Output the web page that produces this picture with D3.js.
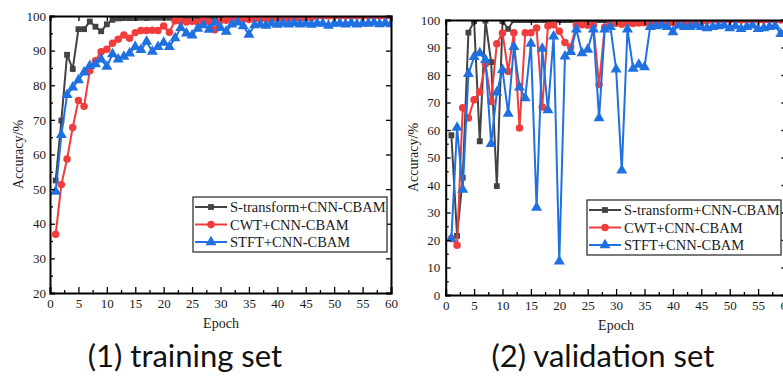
<!DOCTYPE html>
<html>
<head>
<meta charset="utf-8">
<script src="https://cdn.jsdelivr.net/npm/d3@7"></script>
<style>
  body { margin: 0; background: #fff; }
  text { font-family: "Liberation Serif", "Times New Roman", serif; }
</style>
</head>
<body>
<div id="chart"></div>
<script>
// epochs on the x axis
var epochs = d3.range(1, 61);

// (1) training set accuracy
var trainS = [52.5, 69.8, 88.8, 84.7, 96.2, 96.2, 98.4, 96.9, 95.6, 97.6,
  98.9, 99.3, 99.4, 99.4, 99.4, 99.5, 99.4, 99.5, 99.5, 99.5,
  99.5, 99.6, 99.6, 99.6, 99.6, 99.6, 99.7, 99.7, 99.7, 99.7,
  99.7, 99.7, 99.8, 99.7, 99.8, 99.8, 99.8, 99.7, 99.8, 99.8,
  99.9, 99.9, 99.9, 99.9, 99.9, 99.9, 100, 100, 100, 100,
  100, 100, 100, 100, 100, 100, 100, 100, 100, 100];
var trainC = [37.0, 51.3, 58.7, 67.8, 75.6, 73.9, 84.2, 87.1, 89.7, 90.4,
  92.1, 93.3, 94.5, 93.6, 95.2, 95.8, 95.8, 95.9, 95.8, 97.1,
  95.3, 98.6, 98.5, 98.3, 98.5, 98.2, 98.6, 98.4, 96.0, 98.7,
  98.8, 99.0, 98.9, 99.1, 99.0, 99.1, 99.2, 99.1, 99.3, 99.2,
  99.3, 99.3, 99.4, 99.3, 99.4, 99.5, 100, 100, 100, 100,
  100, 100, 100, 100, 100, 100, 100, 100, 100, 100];
var trainT = [49.3, 65.7, 77.2, 79.4, 81.5, 83.7, 85.6, 86.1, 87.5, 85.4,
  89.0, 87.5, 88.3, 89.2, 91.1, 90.2, 92.6, 89.7, 91.1, 92.3,
  91.1, 93.6, 96.6, 95.0, 94.4, 96.4, 97.4, 96.1, 98.1, 96.6,
  95.5, 97.6, 98.2, 97.1, 94.6, 97.4, 97.6, 97.2, 97.9, 97.5,
  97.9, 97.6, 98.0, 97.6, 97.9, 97.5, 97.9, 97.8, 97.2, 97.8,
  97.9, 97.6, 98.0, 97.6, 97.9, 97.8, 98.1, 97.7, 98.0, 97.7];

// (2) validation set accuracy
var valS = [58.1, 21.5, 42.7, 95.4, 99.6, 55.9, 99.8, 84.7, 39.6, 99.6,
  96.8, 100, 100, 100, 100, 100, 100, 100, 100, 100,
  100, 100, 100, 100, 100, 100, 100, 100, 100, 100,
  100, 100, 100, 100, 100, 100, 100, 100, 100, 100,
  100, 100, 100, 100, 100, 100, 100, 100, 100, 100,
  100, 100, 100, 100, 100, 100, 100, 100, 100, 100];
var valC = [20.5, 18.1, 68.1, 64.4, 71.0, 73.8, 84.1, 70.4, 91.4, 95.3,
  81.3, 95.4, 60.7, 95.4, 95.4, 97.1, 68.4, 97.8, 98.3, 95.9,
  91.8, 90.2, 98.1, 98.3, 98.1, 98.1, 76.5, 97.5, 98.6, 98.8,
  98.5, 98.9, 98.7, 98.9, 99.0, 98.8, 99.0, 98.9, 99.1, 99.0,
  99.2, 99.1, 99.2, 99.3, 99.4, 99.6, 100, 100, 100, 100,
  100, 100, 100, 100, 100, 100, 100, 100, 100, 100];
var valT = [20.5, 60.9, 38.3, 80.4, 86.6, 88.0, 85.5, 55.0, 73.7, 81.9,
  66.0, 90.2, 75.5, 71.6, 91.4, 31.8, 89.6, 67.2, 94.1, 12.2,
  86.8, 88.4, 96.6, 88.0, 89.2, 96.6, 64.3, 96.6, 97.5, 82.1,
  45.3, 96.6, 82.3, 83.8, 82.9, 97.5, 97.8, 98.1, 97.5, 95.6,
  98.1, 97.5, 97.5, 98.1, 97.5, 97.1, 97.5, 97.8, 98.1, 97.1,
  97.8, 96.8, 97.5, 98.1, 96.8, 97.1, 97.5, 97.8, 95.0, 96.5];

var seriesNames = ["S-transform+CNN-CBAM", "CWT+CNN-CBAM", "STFT+CNN-CBAM"];
var seriesColors = ["#434343", "#f03c3c", "#1f70e0"];
var seriesShapes = [d3.symbolSquare, d3.symbolCircle, d3.symbolTriangle];
var shapeSizes = [34, 44, 52];

var xTicks = [0, 5, 10, 15, 20, 25, 30, 35, 40, 45, 50, 55, 60];
var trainYTicks = [20, 30, 40, 50, 60, 70, 80, 90, 100];
var valYTicks = [0, 10, 20, 30, 40, 50, 60, 70, 80, 90, 100];
var captions = ["(1) training set", "(2) validation set"];

var svg = d3.select("#chart").append("svg")
  .attr("width", 783)
  .attr("height", 380);

// one panel
function drawPanel(p) {
  var x = d3.scaleLinear().domain([0, 60]).range([p.left, p.right]);
  var y = d3.scaleLinear().domain(p.yDomain).range([p.bottom, p.top]);
  var g = svg.append("g");

  var clipId = "clip" + p.id;
  svg.append("clipPath").attr("id", clipId)
    .append("rect")
    .attr("x", p.left).attr("y", p.top + 1)
    .attr("width", p.right - p.left).attr("height", p.bottom - p.top);

  // series, first one at the bottom
  var data = p.series;
  data.forEach(function(vals, i) {
    var pts = epochs.map(function(e, k) { return [e, vals[k]]; });
    var sg = g.append("g").attr("clip-path", "url(#" + clipId + ")");
    sg.append("path")
      .datum(pts)
      .attr("fill", "none")
      .attr("stroke", seriesColors[i])
      .attr("stroke-width", 2)
      .attr("d", d3.line().x(d => x(d[0])).y(d => y(d[1])));
    sg.selectAll("path.m")
      .data(pts)
      .enter().append("path")
      .attr("class", "m")
      .attr("transform", d => "translate(" + x(d[0]) + "," + y(d[1]) + ")")
      .attr("d", d3.symbol().type(seriesShapes[i]).size(shapeSizes[i]))
      .attr("fill", seriesColors[i]);
  });

  // axes
  var minorX = d3.range(0, 61, 2.5).filter(v => v % 5 !== 0);
  var minorY = d3.range(p.yDomain[0], p.yDomain[1] + 1, 5).filter(v => v % 10 !== 0);

  g.append("g").attr("transform", "translate(0," + p.bottom + ")")
    .call(d3.axisBottom(x).tickValues(xTicks).tickSize(-6).tickPadding(p.xPad));
  g.append("g").attr("transform", "translate(0," + p.bottom + ")")
    .call(d3.axisBottom(x).tickValues(minorX).tickSize(-3).tickFormat(""))
    .select(".domain").remove();
  g.append("g").attr("transform", "translate(" + p.left + ",0)")
    .call(d3.axisLeft(y).tickValues(p.yTicks).tickSize(-5).tickPadding(p.yPad));
  g.append("g").attr("transform", "translate(" + p.left + ",0)")
    .call(d3.axisLeft(y).tickValues(minorY).tickSize(-3).tickFormat(""))
    .select(".domain").remove();
  g.append("g").attr("transform", "translate(0," + p.top + ")")
    .call(d3.axisTop(x).tickValues(xTicks).tickSize(-5).tickFormat(""));
  g.append("g").attr("transform", "translate(" + p.right + ",0)")
    .call(d3.axisRight(y).tickValues(p.yTicks).tickSize(-5).tickFormat(""));

  g.selectAll(".domain").attr("stroke", "#000").attr("stroke-width", 2);
  g.selectAll(".tick line").attr("stroke", "#000").attr("stroke-width", 1.3);
  g.selectAll(".tick text")
    .attr("font-family", "Liberation Serif")
    .attr("font-size", 13)
    .attr("fill", "#1a1a1a");

  // axis titles
  g.append("text")
    .attr("transform", "translate(" + p.yTitleX + "," + ((p.top + p.bottom) / 2) + ") rotate(-90)")
    .attr("text-anchor", "middle")
    .attr("dy", "0.35em")
    .attr("font-size", 14)
    .attr("fill", "#1a1a1a")
    .text("Accuracy/%");
  g.append("text")
    .attr("x", p.xTitleX)
    .attr("y", p.bottom + 35)
    .attr("text-anchor", "middle")
    .attr("font-size", 14)
    .attr("fill", "#1a1a1a")
    .text("Epoch");

  // legend
  var lg = g.append("g").attr("transform", "translate(" + p.legX + "," + p.legY + ")");
  lg.append("rect")
    .attr("width", 194).attr("height", 55)
    .attr("fill", "#fff")
    .attr("stroke", "#333").attr("stroke-width", 1.3);
  seriesNames.forEach(function(name, i) {
    var ry = 10 + i * 17.5;
    lg.append("line")
      .attr("x1", 2).attr("x2", 34).attr("y1", ry).attr("y2", ry)
      .attr("stroke", seriesColors[i]).attr("stroke-width", 2);
    lg.append("path")
      .attr("transform", "translate(18," + ry + ")")
      .attr("d", d3.symbol().type(seriesShapes[i]).size(shapeSizes[i]))
      .attr("fill", seriesColors[i]);
    lg.append("text")
      .attr("x", 37).attr("y", ry)
      .attr("dy", "0.35em")
      .attr("font-size", 14.5)
      .attr("fill", "#1a1a1a")
      .text(name);
  });

  // caption
  svg.append("text")
    .attr("x", p.capX)
    .attr("y", 367)
    .attr("text-anchor", "middle")
    .style("font-family", "Lato, 'Open Sans', sans-serif")
    .attr("font-size", 31)
    .attr("fill", "#111")
    .text(p.caption);
}

drawPanel({
  id: 1, left: 50, right: 391, top: 16, bottom: 293,
  yDomain: [20, 100], yTicks: trainYTicks,
  series: [trainS, trainC, trainT],
  xPad: 6, yPad: 4, yTitleX: 18, xTitleX: 221,
  legX: 193, legY: 197, capX: 185, caption: captions[0]
});
drawPanel({
  id: 2, left: 445.7, right: 786.5, top: 20, bottom: 295,
  yDomain: [0, 100], yTicks: valYTicks,
  series: [valS, valC, valT],
  xPad: 5.5, yPad: 5.5, yTitleX: 413, xTitleX: 616,
  legX: 587, legY: 200, capX: 603, caption: captions[1]
});
</script>
</body>
</html>
